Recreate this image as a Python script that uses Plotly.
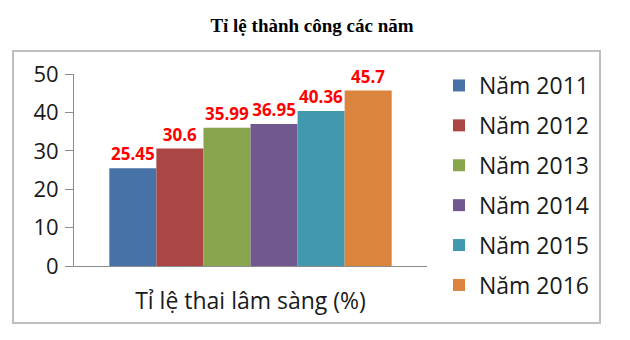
import plotly.graph_objects as go

categories = ["Tỉ lệ thai lâm sàng (%)"]
series_names = ["Năm 2011", "Năm 2012", "Năm 2013", "Năm 2014", "Năm 2015", "Năm 2016"]
values = [25.45, 30.6, 35.99, 36.95, 40.36, 45.7]
value_labels = ["25.45", "30.6", "35.99", "36.95", "40.36", "45.7"]
colors = ["#4672A8", "#AA4643", "#89A54E", "#71588F", "#4198AF", "#DB843D"]
y_ticks = [0, 10, 20, 30, 40, 50]

W, H = 630, 340
L, R, T, B = 74, 427, 74, 266  # plot area pixels

fig = go.Figure()
for i, (name, v, lab, c) in enumerate(zip(series_names, values, value_labels, colors)):
    fig.add_trace(go.Bar(
        x=categories, y=[v], name=name, marker=dict(color=c, line=dict(width=0)),
        text=[lab], texttemplate="<b>%{text}</b>", textposition="outside", cliponaxis=False,
        textfont=dict(color="#FF0000", size=17, family="Open Sans"),
        legendgroup=name,
    ))

pw, ph = R - L, B - T
def px_x(p):
    return (p - L) / pw
def px_y(p):
    return (B - p) / ph

fig.update_layout(
    width=W, height=H,
    margin=dict(l=L, r=W - R, t=T, b=H - B, autoexpand=False),
    paper_bgcolor="white", plot_bgcolor="white",
    barmode="group", bargap=0.2, bargroupgap=0,
    font=dict(family="Open Sans", color="#1a1a1a"),
    title=dict(text="<b>Tỉ lệ thành công các năm</b>", x=312 / W, xanchor="center",
               y=1 - 25 / H, yanchor="middle",
               font=dict(family="Liberation Serif", size=19, color="black")),
    showlegend=True,
    legend=dict(x=px_x(439), y=px_y(64), xanchor="left", yanchor="top",
                font=dict(size=23, family="Open Sans", color="#1a1a1a"),
                traceorder="grouped", tracegroupgap=7, bgcolor="rgba(0,0,0,0)",
                maxheight=1.0),
    uniformtext=dict(mode=False),
)
fig.update_yaxes(range=[0, 50], tickvals=y_ticks, ticks="outside", ticklen=8,
                 tickcolor="#8c8c8c", showline=True, linecolor="#8c8c8c", linewidth=1,
                 showgrid=False, zeroline=False,
                 tickfont=dict(size=22, family="Open Sans", color="#1a1a1a"),
                 ticklabelstandoff=2)
fig.update_xaxes(showline=True, linecolor="#8c8c8c", linewidth=1, ticks="",
                 showgrid=False, tickfont=dict(size=23, family="Open Sans", color="#1a1a1a"),
                 ticklabelstandoff=14)

fig.add_shape(type="rect", xref="paper", yref="paper",
              x0=px_x(13), x1=px_x(600), y0=px_y(323), y1=px_y(51),
              line=dict(color="#BFBFBF", width=2), fillcolor="rgba(0,0,0,0)", layer="below")

fig.write_html("out.html")
